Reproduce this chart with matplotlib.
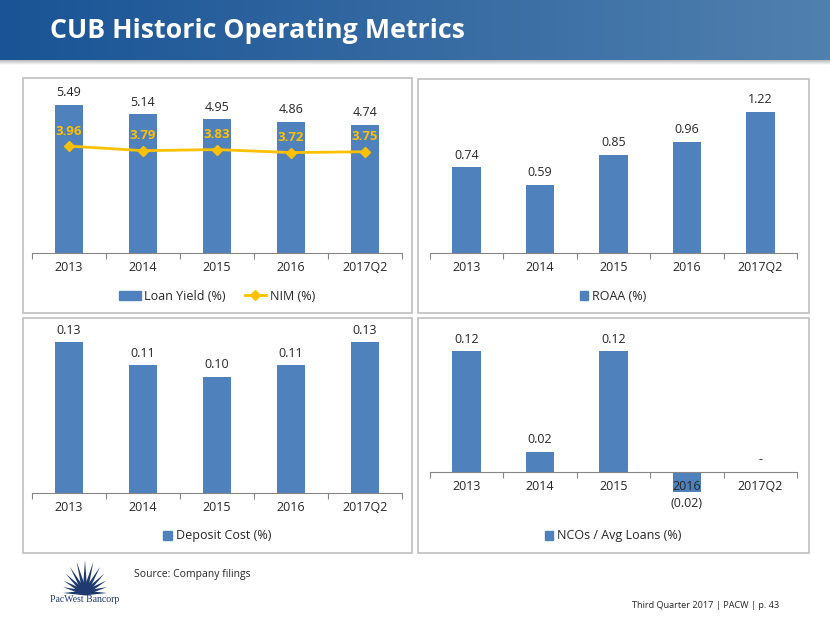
import numpy as np
import matplotlib
matplotlib.use('Agg')
import matplotlib.pyplot as plt
from matplotlib.patches import Rectangle, Polygon, Wedge
from matplotlib.lines import Line2D

plt.rcParams['font.family'] = ['Open Sans', 'DejaVu Sans']

years = ['2013', '2014', '2015', '2016', '2017Q2']
loan_yield = [5.49, 5.14, 4.95, 4.86, 4.74]
nim = [3.96, 3.79, 3.83, 3.72, 3.75]
roaa = [0.74, 0.59, 0.85, 0.96, 1.22]
deposit_cost = [0.13, 0.11, 0.10, 0.11, 0.13]
nco = [0.12, 0.02, 0.12, -0.02, 0.0]

BLUE = '#4F81BD'
GOLD = '#FFC000'
GRAY = '#868686'
TXT = '#262626'

W, H = 830, 623
fig = plt.figure(figsize=(W / 100, H / 100), dpi=100)


def px_axes(x0, y0, x1, y1, **kw):
    # pixel box (top-left origin) -> figure axes
    return fig.add_axes([x0 / W, 1 - y1 / H, (x1 - x0) / W, (y1 - y0) / H], **kw)


def fmt(v):
    if v < 0:
        return '({:0.2f})'.format(-v)
    if v == 0:
        return '-'
    return '{:0.2f}'.format(v)


def bar_panel(ax, values, ylim):
    x = np.arange(len(years))
    rects = ax.bar(x, values, width=0.39, color=BLUE, zorder=2)
    ax.set_xlim(-0.5, len(years) - 0.5)
    ax.set_ylim(*ylim)
    for s in ['top', 'right', 'left']:
        ax.spines[s].set_visible(False)
    ax.spines['bottom'].set_position(('data', 0))
    ax.spines['bottom'].set_color(GRAY)
    ax.spines['bottom'].set_zorder(3)
    ax.xaxis.set_zorder(3)
    ax.set_yticks([])
    ax.set_xticks(np.arange(-0.5, len(years), 1.0))
    ax.set_xticklabels([])
    ax.tick_params(axis='x', which='major', length=4, color=GRAY, direction='out')
    ax.set_xticks(x, minor=True)
    ax.set_xticklabels(years, minor=True, fontsize=9, color=TXT)
    ax.tick_params(axis='x', which='minor', length=0, pad=6)
    for rect, v in zip(rects, values):
        cx = rect.get_x() + rect.get_width() / 2
        if v < 0:
            ax.annotate(fmt(v), (cx, v), xytext=(0, -4), textcoords='offset points',
                        ha='center', va='top', fontsize=9, color=TXT)
        else:
            ax.annotate(fmt(v), (cx, v), xytext=(0, 4), textcoords='offset points',
                        ha='center', va='bottom', fontsize=9, color=TXT)
    ax.patch.set_alpha(0)
    return rects


def panel_legend(ax, handles, labels, xy, hl):
    ax.legend(handles, labels, loc='center', bbox_to_anchor=(xy[0] / W, 1 - xy[1] / H),
              bbox_transform=fig.transFigure, ncol=len(handles), frameon=False,
              fontsize=9, handlelength=hl, handleheight=0.7, handletextpad=0.3,
              columnspacing=1.5, labelcolor=TXT)


# header band
hax = px_axes(0, 0, W, 60)
grad = np.linspace(0, 1, 256)
c0 = np.array([26, 84, 150]) / 255
c1 = np.array([80, 128, 174]) / 255
img = (c0[None, :] * (1 - grad[:, None]) + c1[None, :] * grad[:, None])[None, :, :]
hax.imshow(img, aspect='auto', extent=[0, 1, 0, 1])
hax.set_axis_off()
sax = px_axes(0, 60, W, 65)
sh = np.linspace(0.72, 1.0, 32)
sax.imshow(np.repeat(sh[:, None, None], 3, axis=2), aspect='auto', extent=[0, 1, 0, 1])
sax.set_axis_off()
fig.text(50 / W, 1 - 31 / H, 'CUB Historic Operating Metrics', color='white',
         fontsize=19.3, fontweight='bold', va='center', ha='left')

# panel frames
for (x0, y0, x1, y1) in [(23, 78, 412, 313), (418, 79, 809, 313),
                         (23, 318, 412, 553), (418, 318, 809, 553)]:
    fig.patches.append(Rectangle((x0 / W, 1 - y1 / H), (x1 - x0) / W, (y1 - y0) / H,
                                 transform=fig.transFigure, fill=False,
                                 ec='#BFBFBF', lw=1.2))

# panel 1: loan yield + NIM
ax1 = px_axes(32, 91, 402, 253)
bar_panel(ax1, loan_yield, (0, 6))
x = np.arange(len(years))
ax1.plot(x, nim, color=GOLD, lw=2, marker='D', ms=5, zorder=4)
for xi, v in zip(x, nim):
    ax1.annotate('{:0.2f}'.format(v), (xi, v), xytext=(0, 6), textcoords='offset points',
                 ha='center', va='bottom', fontsize=9.5, fontweight='bold', color=GOLD)
panel_legend(ax1, [Rectangle((0, 0), 1, 1, color=BLUE),
                   Line2D([], [], color=GOLD, lw=2, marker='D', ms=5)],
             ['Loan Yield (%)', 'NIM (%)'], (217, 296), 1.7)

# panel 2: ROAA
ax2 = px_axes(430, 91, 797, 253)
bar_panel(ax2, roaa, (0, 1.4))
panel_legend(ax2, [Rectangle((0, 0), 1, 1, color=BLUE)], ['ROAA (%)'], (613, 296), 0.7)

# panel 3: deposit cost
ax3 = px_axes(32, 330.5, 402, 493)
bar_panel(ax3, deposit_cost, (0, 0.14))
panel_legend(ax3, [Rectangle((0, 0), 1, 1, color=BLUE)], ['Deposit Cost (%)'], (217, 536), 0.7)

# panel 4: NCOs
ax4 = px_axes(430, 331, 797, 512)
bar_panel(ax4, nco, (-0.04, 0.14))
panel_legend(ax4, [Rectangle((0, 0), 1, 1, color=BLUE)], ['NCOs / Avg Loans (%)'], (613, 536), 0.7)

# footer
fig.text(134 / W, 1 - 575 / H, 'Source: Company filings', fontsize=7.5, color=TXT,
         va='center', ha='left')
fig.text(779 / W, 1 - 605 / H, 'Third Quarter 2017 | PACW | p. 43', fontsize=6.6,
         color=TXT, va='center', ha='right')

# logo
lax = px_axes(49, 556, 121, 608)
lax.set_xlim(-36, 36)
lax.set_ylim(-15, 37)
lax.set_axis_off()
NAVY = '#1F3A6E'
angles = np.linspace(0, 180, 13)
for a in angles:
    t = np.radians(a)
    r = 22 + 11 * np.sin(t) ** 2
    n = np.array([-np.sin(t), np.cos(t)])
    d = np.array([np.cos(t), np.sin(t)])
    base = 2.4
    pts = [base * n, -base * n, r * d]
    lax.add_patch(Polygon(pts, closed=True, color=NAVY, lw=0))
lax.add_patch(Wedge((0, 0), 9, 0, 180, color=NAVY, lw=0))
lax.text(0, -6, 'PacWest Bancorp', family=['Liberation Serif', 'DejaVu Serif'],
         fontsize=7, color=NAVY, ha='center', va='center')

fig.savefig('out.png', dpi=100)
